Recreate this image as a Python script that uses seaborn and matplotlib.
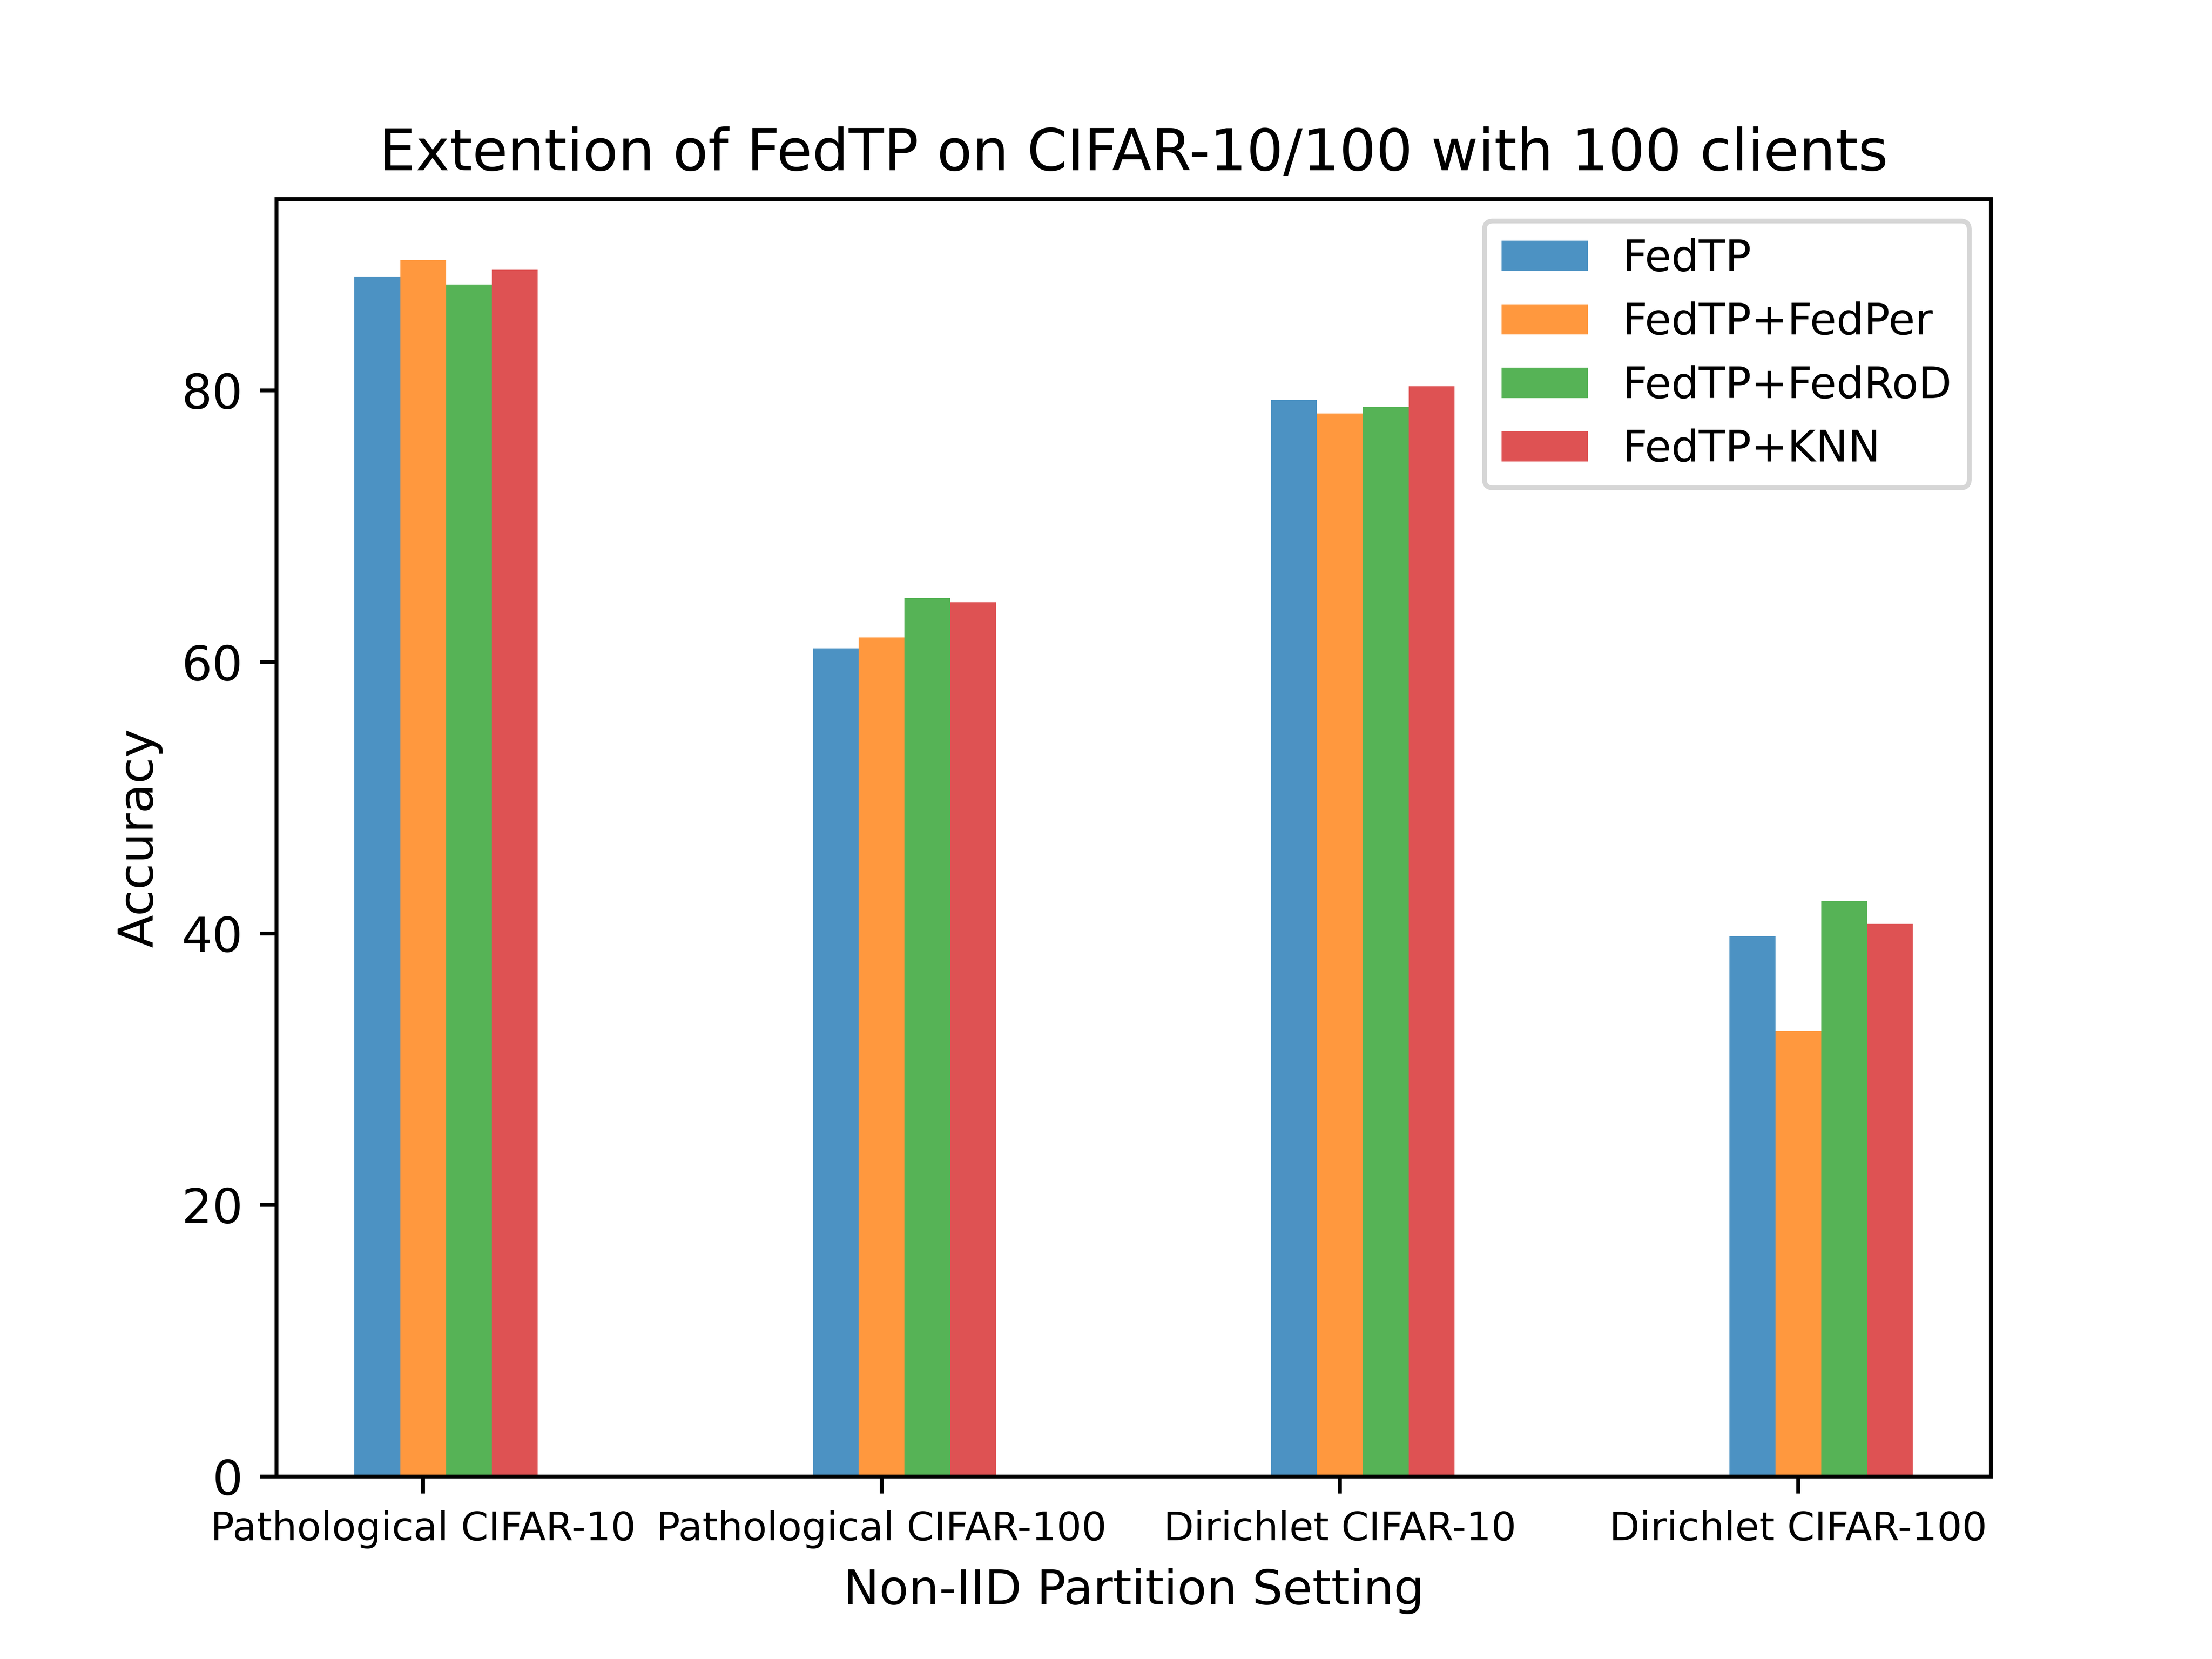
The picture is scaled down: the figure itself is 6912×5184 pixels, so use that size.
import pandas as pd
import matplotlib.pyplot as plt
import seaborn as sns

# Values
settings = ["Pathological CIFAR-10", "Pathological CIFAR-100",
            "Dirichlet CIFAR-10", "Dirichlet CIFAR-100"]
methods = ["FedTP", "FedTP+FedPer", "FedTP+FedRoD", "FedTP+KNN"]
fedtp = [88.4, 61.0, 79.3, 39.8]
fedtp_fedper = [89.6, 61.8, 78.3, 32.8]
fedtp_fedrod = [87.8, 64.7, 78.8, 42.4]
fedtp_knn = [88.9, 64.4, 80.3, 40.7]

df = pd.DataFrame({
    "Setting": settings * 4,
    "Method": [m for m in methods for _ in settings],
    "Accuracy": fedtp + fedtp_fedper + fedtp_fedrod + fedtp_knn,
})

fig, ax = plt.subplots(figsize=(6.4, 4.8))
sns.barplot(data=df, x="Setting", y="Accuracy", hue="Method",
            palette="tab10", saturation=1, alpha=0.8, width=0.4,
            errorbar=None, ax=ax)

# bars in the original sit a half bar to the right of the tick
ax.set_xticks([i - 0.05 for i in range(len(settings))])
ax.set_xticklabels(settings, fontsize=8.2)
ax.set_xlim(-0.37, 3.37)
ax.set_ylim(0, 94.1)
ax.set_title("Extention of FedTP on CIFAR-10/100 with 100 clients")
ax.set_xlabel("Non-IID Partition Setting")
ax.set_ylabel("Accuracy")
ax.legend(title=None, fontsize=9)

plt.savefig("out.png", dpi=1080)
